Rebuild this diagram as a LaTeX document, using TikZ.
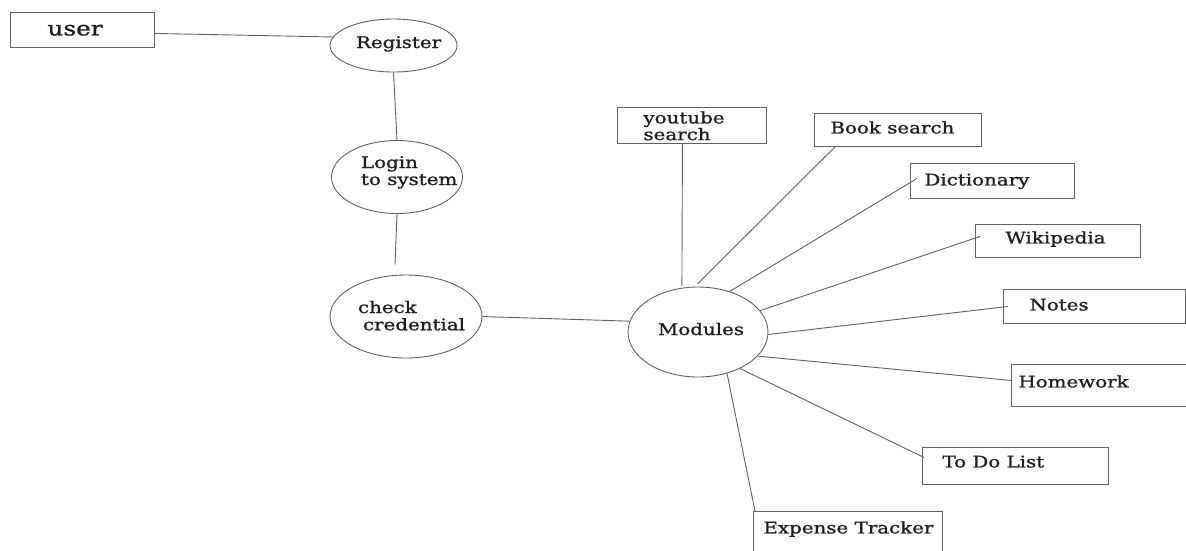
\documentclass[tikz,border=0pt]{standalone}
\usepackage{fontspec}
\setmainfont{DejaVu Serif}[FakeStretch=1.24, FakeBold=1.2]
\usetikzlibrary{shapes.geometric}
\newcommand{\mylbl}[3]{\raisebox{#2}[0pt][0pt]{\makebox[0pt][l]{\hspace*{#1}#3}}}
\newcommand{\twolines}[2]{\begin{tabular}[t]{@{}l@{}}#1\\#2\end{tabular}}
\begin{document}
\begin{tikzpicture}[x=1pt,y=1pt,
  conn/.style={draw=black!62, line width=0.9pt},
  bubble/.style={ellipse, draw=black!62, line width=0.9pt, inner sep=0pt, text=black!88,
    font=\fontsize{16}{17}\selectfont},
  modbox/.style={rectangle, draw=black!62, line width=0.9pt, inner sep=0pt, anchor=north west,
    text=black!88, font=\fontsize{16}{17}\selectfont}]
\useasboundingbox (0,0) rectangle (1186,-550);
\fill[white] (0,0) rectangle (1186,-550);
\clip (0,0) rectangle (1186,-550);

% left column
\node[modbox, minimum width=144pt, minimum height=35pt, font=\fontsize{20}{22}\selectfont] (user) at (10,-12)
  {\mylbl{-35pt}{-5.5pt}{user}};
\node[bubble, minimum width=127pt, minimum height=53pt] (reg) at (393.5,-45.5)
  {\mylbl{-37.5pt}{-2.5pt}{Register}};
\node[bubble, minimum width=131pt, minimum height=73pt] (login) at (397,-177)
  {\mylbl{-36pt}{9pt}{\twolines{Login}{to system}}};
\node[bubble, minimum width=152pt, minimum height=83pt] (chk) at (406,-316.5)
  {\mylbl{-48pt}{3.5pt}{\twolines{check}{\hspace*{5pt}credential}}};
\node[bubble, minimum width=140pt, minimum height=90pt] (mod) at (698,-332)
  {\mylbl{-40pt}{-3pt}{Modules}};

% module boxes
\node[modbox, minimum width=149pt, minimum height=36pt, font=\fontsize{16}{15}\selectfont] (yt) at (617,-107)
  {\mylbl{-48.5pt}{2pt}{\twolines{youtube}{search}}};
\node[modbox, minimum width=167pt, minimum height=33pt] (book) at (814,-113)
  {\mylbl{-67.5pt}{-3.5pt}{Book search}};
\node[modbox, minimum width=164pt, minimum height=35pt] (dict) at (910,-163)
  {\mylbl{-68pt}{-4.5pt}{Dictionary}};
\node[modbox, minimum width=165pt, minimum height=33pt] (wiki) at (975,-224)
  {\mylbl{-52.5pt}{-2.5pt}{Wikipedia}};
\node[modbox, minimum width=182pt, minimum height=34pt] (notes) at (1003,-289)
  {\mylbl{-65pt}{-4pt}{Notes}};
\node[modbox, minimum width=250pt, minimum height=42pt] (hw) at (1011,-364)
  {\mylbl{-118pt}{-2pt}{Homework}};
\node[modbox, minimum width=186pt, minimum height=37pt] (todo) at (922,-447)
  {\mylbl{-73pt}{-1.5pt}{To Do List}};
\node[modbox, minimum width=189pt, minimum height=60pt] (exp) at (753,-511)
  {\mylbl{-84.5pt}{8pt}{Expense Tracker}};

% connectors
\draw[conn] ([yshift=-3.5pt]user.east) -- (reg.172);
\draw[conn] (reg.south) -- (login.north);
\draw[conn] (login.south) -- ([xshift=-11pt,yshift=10pt]chk.north);
\draw[conn] (chk.east) -- (mod.171);
\draw[conn, shorten >=2pt] ([xshift=-9.5pt]yt.south) -- (mod.110);
\draw[conn, shorten >=4pt] ([xshift=21pt]book.south west) -- (mod.94);
\draw[conn] ([xshift=7pt,yshift=2.5pt]dict.west) -- (mod.52);
\draw[conn] ([xshift=5pt,yshift=4.5pt]wiki.west) -- (mod.19);
\draw[conn] ([xshift=5pt]notes.west) -- (mod.-2);
\draw[conn] ([yshift=5pt]hw.west) -- (mod.-22);
\draw[conn] ([xshift=2pt,yshift=8.5pt]todo.west) -- (mod.-41);
\draw[conn] ([xshift=2pt]exp.north west) -- (mod.-55);
\end{tikzpicture}
\end{document}
